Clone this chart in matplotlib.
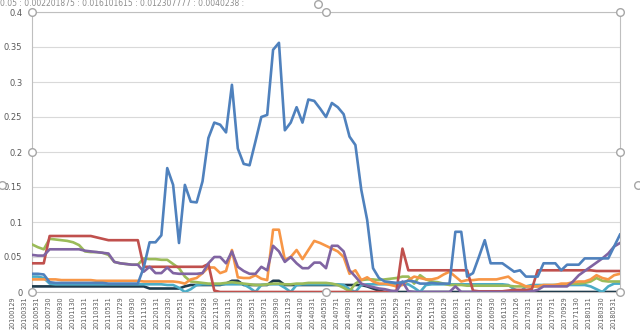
import numpy as np
import matplotlib
matplotlib.use("Agg")
import matplotlib.pyplot as plt
from matplotlib.transforms import blended_transform_factory

# ---------------- data ----------------
date_labels = [
    "20100129", "20100331", "20100531", "20100730", "20100930", "20101130",
    "20110131", "20110331", "20110531", "20110729", "20110930", "20111130",
    "20120131", "20120330", "20120531", "20120731", "20120928", "20121130",
    "20130131", "20130329", "20130531", "20130731", "20130930", "20131129",
    "20140130", "20140331", "20140530", "20140731", "20140930", "20141128",
    "20150130", "20150331", "20150529", "20150731", "20150930", "20151130",
    "20160129", "20160331", "20160531", "20160729", "20160930", "20161130",
    "20170126", "20170331", "20170531", "20170731", "20170929", "20171130",
    "20180131", "20180330", "20180531",
]

blue = [0.026, 0.026, 0.025, 0.014, 0.013, 0.013, 0.013, 0.013, 0.013, 0.013,
        0.013, 0.013, 0.013, 0.012, 0.012, 0.012, 0.012, 0.012, 0.012, 0.035,
        0.071, 0.071, 0.081, 0.177, 0.153, 0.070, 0.153, 0.129, 0.128, 0.158,
        0.220, 0.242, 0.239, 0.228, 0.296, 0.205, 0.183, 0.181, 0.215, 0.250,
        0.253, 0.346, 0.356, 0.231, 0.242, 0.264, 0.242, 0.275, 0.273, 0.262,
        0.250, 0.270, 0.264, 0.254, 0.222, 0.210, 0.146, 0.103, 0.034, 0.020,
        0.015, 0.014, 0.013, 0.014, 0.016, 0.015, 0.012, 0.012, 0.013, 0.012,
        0.012, 0.012, 0.086, 0.086, 0.022, 0.027, 0.050, 0.074, 0.041, 0.041,
        0.041, 0.035, 0.029, 0.031, 0.022, 0.022, 0.022, 0.041, 0.041, 0.041,
        0.031, 0.039, 0.039, 0.039, 0.048, 0.048, 0.048, 0.048, 0.048, 0.065,
        0.082]

red = [0.041, 0.041, 0.041, 0.080, 0.080, 0.080, 0.080, 0.080, 0.080, 0.080,
       0.080, 0.078, 0.076, 0.074, 0.074, 0.074, 0.074, 0.074, 0.074, 0.036,
       0.036, 0.036, 0.036, 0.036, 0.036, 0.036, 0.036, 0.036, 0.036, 0.036,
       0.040, 0.002, 0.000, 0.000, 0.000, 0.000, 0.000, 0.000, 0.000, 0.000,
       0.000, 0.000, 0.000, 0.000, 0.000, 0.000, 0.000, 0.000, 0.000, 0.000,
       0.000, 0.000, 0.000, 0.000, 0.000, 0.000, 0.000, 0.000, 0.000, 0.000,
       0.000, 0.000, 0.002, 0.062, 0.031, 0.031, 0.031, 0.031, 0.031, 0.031,
       0.031, 0.031, 0.031, 0.031, 0.031, 0.002, 0.001, 0.001, 0.001, 0.001,
       0.001, 0.002, 0.003, 0.003, 0.003, 0.004, 0.031, 0.031, 0.031, 0.031,
       0.031, 0.031, 0.031, 0.031, 0.031, 0.031, 0.030, 0.030, 0.030, 0.030,
       0.030]

green = [0.068, 0.064, 0.061, 0.076, 0.075, 0.074, 0.073, 0.071, 0.067, 0.058,
         0.057, 0.057, 0.056, 0.053, 0.043, 0.041, 0.040, 0.039, 0.039, 0.048,
         0.047, 0.047, 0.046, 0.046, 0.040, 0.034, 0.022, 0.015, 0.014, 0.013,
         0.012, 0.012, 0.012, 0.013, 0.014, 0.013, 0.012, 0.011, 0.010, 0.010,
         0.011, 0.012, 0.012, 0.011, 0.011, 0.012, 0.012, 0.013, 0.013, 0.013,
         0.013, 0.012, 0.010, 0.006, 0.001, 0.012, 0.017, 0.018, 0.018, 0.017,
         0.018, 0.019, 0.020, 0.022, 0.022, 0.012, 0.024, 0.018, 0.015, 0.014,
         0.012, 0.010, 0.010, 0.010, 0.009, 0.009, 0.009, 0.009, 0.009, 0.009,
         0.009, 0.009, 0.008, 0.008, 0.008, 0.008, 0.008, 0.009, 0.009, 0.010,
         0.010, 0.011, 0.012, 0.012, 0.013, 0.015, 0.020, 0.016, 0.015, 0.015,
         0.015]

purple = [0.053, 0.052, 0.052, 0.061, 0.061, 0.061, 0.061, 0.061, 0.061, 0.059,
          0.058, 0.057, 0.056, 0.055, 0.043, 0.041, 0.040, 0.039, 0.039, 0.029,
          0.036, 0.027, 0.027, 0.035, 0.027, 0.026, 0.026, 0.026, 0.026, 0.027,
          0.041, 0.050, 0.050, 0.041, 0.058, 0.036, 0.030, 0.026, 0.026, 0.036,
          0.031, 0.066, 0.058, 0.043, 0.050, 0.041, 0.034, 0.034, 0.042, 0.042,
          0.034, 0.066, 0.066, 0.058, 0.031, 0.022, 0.012, 0.009, 0.007, 0.005,
          0.004, 0.002, 0.001, 0.015, 0.001, 0.000, 0.000, 0.000, 0.000, 0.000,
          0.000, 0.000, 0.008, 0.000, 0.000, 0.000, 0.000, 0.000, 0.000, 0.000,
          0.000, 0.000, 0.000, 0.000, 0.000, 0.001, 0.003, 0.008, 0.008, 0.008,
          0.008, 0.008, 0.015, 0.024, 0.030, 0.036, 0.042, 0.048, 0.055, 0.065,
          0.070]

orange = [0.018, 0.018, 0.018, 0.018, 0.018, 0.017, 0.017, 0.017, 0.017, 0.017,
          0.017, 0.016, 0.016, 0.016, 0.016, 0.016, 0.016, 0.016, 0.016, 0.015,
          0.015, 0.015, 0.015, 0.015, 0.015, 0.014, 0.012, 0.018, 0.020, 0.027,
          0.035, 0.035, 0.027, 0.030, 0.060, 0.021, 0.020, 0.020, 0.024, 0.019,
          0.017, 0.089, 0.089, 0.046, 0.050, 0.060, 0.047, 0.060, 0.073, 0.070,
          0.066, 0.062, 0.058, 0.050, 0.026, 0.031, 0.017, 0.021, 0.015, 0.012,
          0.012, 0.010, 0.008, 0.010, 0.017, 0.022, 0.020, 0.018, 0.018, 0.020,
          0.025, 0.029, 0.022, 0.015, 0.017, 0.017, 0.018, 0.018, 0.018, 0.018,
          0.020, 0.022, 0.015, 0.012, 0.008, 0.008, 0.008, 0.010, 0.010, 0.010,
          0.012, 0.012, 0.014, 0.015, 0.015, 0.018, 0.024, 0.020, 0.018, 0.024,
          0.026]

aqua = [0.022, 0.022, 0.020, 0.012, 0.011, 0.011, 0.011, 0.011, 0.011, 0.011,
        0.011, 0.011, 0.011, 0.011, 0.011, 0.011, 0.011, 0.011, 0.011, 0.011,
        0.011, 0.011, 0.011, 0.010, 0.010, 0.006, 0.000, 0.004, 0.010, 0.011,
        0.011, 0.011, 0.011, 0.011, 0.011, 0.011, 0.011, 0.006, 0.000, 0.010,
        0.011, 0.011, 0.011, 0.006, 0.000, 0.010, 0.011, 0.011, 0.011, 0.011,
        0.011, 0.011, 0.011, 0.010, 0.004, 0.000, 0.010, 0.011, 0.011, 0.011,
        0.011, 0.011, 0.011, 0.011, 0.011, 0.006, 0.000, 0.010, 0.011, 0.011,
        0.011, 0.011, 0.011, 0.011, 0.011, 0.011, 0.011, 0.011, 0.011, 0.011,
        0.011, 0.010, 0.004, 0.000, 0.008, 0.010, 0.010, 0.010, 0.010, 0.010,
        0.010, 0.010, 0.010, 0.010, 0.010, 0.008, 0.004, 0.000, 0.008, 0.012,
        0.012]

navy = [0.008, 0.008, 0.008, 0.008, 0.008, 0.008, 0.008, 0.008, 0.008, 0.008,
        0.008, 0.008, 0.008, 0.008, 0.008, 0.008, 0.008, 0.008, 0.008, 0.008,
        0.005, 0.005, 0.005, 0.005, 0.005, 0.005, 0.008, 0.010, 0.010, 0.010,
        0.010, 0.010, 0.010, 0.012, 0.016, 0.016, 0.010, 0.010, 0.010, 0.010,
        0.010, 0.016, 0.016, 0.010, 0.010, 0.010, 0.010, 0.010, 0.010, 0.010,
        0.010, 0.010, 0.010, 0.010, 0.010, 0.010, 0.010, 0.008, 0.005, 0.002,
        0.000, 0.000, 0.000, 0.000, 0.000, 0.000, 0.000, 0.000, 0.000, 0.000,
        0.000, 0.000, 0.000, 0.000, 0.000, 0.000, 0.000, 0.000, 0.000, 0.000,
        0.000, 0.000, 0.000, 0.000, 0.000, 0.000, 0.000, 0.000, 0.000, 0.000,
        0.000, 0.000, 0.000, 0.000, 0.000, 0.000, 0.000, 0.000, 0.000, 0.000,
        0.000]

series = [
    (navy, "#1F3B4D"),
    (aqua, "#4BACC6"),
    (green, "#9BBB59"),
    (orange, "#F79646"),
    (red, "#C0504D"),
    (purple, "#8064A2"),
    (blue, "#4F81BD"),
]

header_text = "0.05 : 0.002201875 : 0.016101615 : 0.012307777 : 0.0040238 :"

# ---------------- figure ----------------
W, H = 640, 330
fig = plt.figure(figsize=(W / 100, H / 100), dpi=100)
fig.patch.set_facecolor("white")
L, R, T, B = 32, 620, 12, 292
ax = fig.add_axes([L / W, 1 - B / H, (R - L) / W, (B - T) / H])

n = len(blue)
x = np.arange(n)
for vals, col in series:
    ax.plot(x, vals, color=col, lw=1.9, solid_joinstyle="round", zorder=3)

ax.set_xlim(0, n - 1)
ax.set_ylim(0, 0.4)
yt = np.arange(0, 0.401, 0.05)
ax.set_yticks(yt)
ax.set_yticklabels(["0"] + [f"{v:g}" for v in yt[1:]])
ax.tick_params(axis="y", length=0, labelsize=6, labelcolor="#595959", pad=7)
ax.set_xticks([])
ax.grid(axis="y", color="#D9D9D9", lw=0.8, zorder=0)
for s in ax.spines.values():
    s.set_color("#BFBFBF")
    s.set_linewidth(0.8)

# category labels (vertical)
trans = blended_transform_factory(ax.transData, ax.transAxes)
first_px, last_px = 12, 613
pos = np.linspace((first_px - L) / (R - L) * (n - 1), (last_px - L) / (R - L) * (n - 1), len(date_labels))
for p, lab in zip(pos, date_labels):
    ax.text(p, -0.016, lab, rotation=90, ha="center", va="top", fontsize=4.7,
            color="#595959", transform=trans, clip_on=False)

# header text
fig.text(0.0, 1 - 4 / H, header_text, fontsize=5.5, color="#8C8C8C", va="center", ha="left")

# selection handles of the plot area
hx = [0, 0.5, 1, 0, 1, 0, 0.5, 1]
hy = [1, 1, 1, 0.5, 0.5, 0, 0, 0]
ax.plot(hx, hy, ls="none", marker="o", ms=5.5, mfc="white", mec="#A6A6A6", mew=1.0,
        transform=ax.transAxes, clip_on=False, zorder=10)
# chart-area handles (partly outside the picture)
fig.add_artist(plt.Line2D([318 / W, 2 / W, 638 / W], [1 - 4 / H, 1 - 185 / H, 1 - 185 / H],
                          ls="none", marker="o", ms=5.5, mfc="white", mec="#A6A6A6", mew=1.0,
                          transform=fig.transFigure))

fig.savefig("out.png", dpi=100, facecolor="white")
